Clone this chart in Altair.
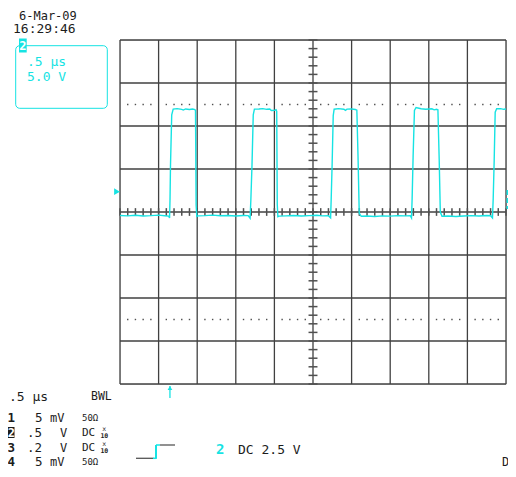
import altair as alt
import pandas as pd

# ---------------- data ----------------
# time axis: 0.5 us/div, 10 divisions ; volts axis: 5.0 V/div (0.5 V x10 probe), 8 divisions
time_ticks = [-2.5, -2.0, -1.5, -1.0, -0.5, 0.0, 0.5, 1.0, 1.5, 2.0, 2.5]
volt_ticks = [-20, -15, -10, -5, 0, 5, 10, 15, 20]
dotted_levels = [-12.5, 12.5]
trigger_time = [-1.853]

trace_t = [
    -2.500, -2.400, -2.300, -2.200, -2.100, -2.000, -1.920, -1.870, -1.858,
    -1.852, -1.846, -1.830, -1.811,
    -1.760, -1.700, -1.680, -1.650, -1.600, -1.560, -1.530,
    -1.522, -1.514, -1.505, -1.490,
    -1.400, -1.300, -1.200, -1.100, -1.000, -0.900, -0.840, -0.815,
    -0.805, -0.790, -0.774, -0.759,
    -0.700, -0.650, -0.600, -0.560, -0.540, -0.500, -0.478,
    -0.470, -0.463, -0.455, -0.440,
    -0.350, -0.250, -0.150, -0.050, 0.050, 0.120, 0.200, 0.228,
    0.236, 0.248, 0.262, 0.274,
    0.330, 0.400, 0.420, 0.440, 0.500, 0.550, 0.568,
    0.583, 0.599, 0.625,
    0.700, 0.800, 0.900, 1.000, 1.100, 1.200, 1.260, 1.276,
    1.284, 1.297, 1.314, 1.335,
    1.400, 1.460, 1.540, 1.570, 1.600, 1.618,
    1.635, 1.649, 1.671,
    1.750, 1.850, 1.950, 2.050, 2.150, 2.250, 2.300, 2.325,
    2.334, 2.347, 2.360, 2.379,
    2.430, 2.470, 2.500,
]
trace_v = [
    -0.40, -0.45, -0.38, -0.46, -0.42, -0.36, -0.44, -0.48, -0.70,
    1.5, 5.4, 11.3, 11.96,
    12.02, 11.93, 11.85, 11.98, 11.92, 11.97, 11.90,
    11.80, 0.8, -0.52, -0.45,
    -0.42, -0.36, -0.44, -0.40, -0.47, -0.40, -0.42, -0.72,
    1.4, 5.5, 11.3, 11.96,
    11.98, 12.02, 11.94, 11.98, 11.80, 11.82, 11.90,
    11.70, 0.9, -0.55, -0.48,
    -0.45, -0.40, -0.46, -0.42, -0.38, -0.45, -0.43, -0.68,
    1.6, 5.6, 11.2, 11.95,
    12.02, 11.95, 11.82, 11.96, 11.98, 11.92, 11.85,
    6.5, -0.15, -0.50,
    -0.46, -0.52, -0.45, -0.48, -0.42, -0.45, -0.44, -0.70,
    1.5, 6.5, 11.8, 12.15,
    12.00, 11.95, 12.00, 11.88, 11.95, 11.90,
    6.0, 0.0, -0.50,
    -0.46, -0.52, -0.46, -0.42, -0.47, -0.40, -0.44, -0.70,
    1.5, 6.0, 11.6, 12.00,
    12.02, 11.94, 11.97,
]

# ---------------- style ----------------
W, H = 386, 344          # plot (graticule) area
X0, Y0 = 120, 40         # its top-left corner on the page
CYAN = "#16E3E3"
GRID = "#404040"
INK = "#1c1c1c"
MONO = "DejaVu Sans Mono"

xs = alt.Scale(domain=[-2.5, 2.5], nice=False, zero=False)
ys = alt.Scale(domain=[-20, 20], nice=False, zero=False)

one = pd.DataFrame({"k": [0]})


def label(text, px, py, size=12, color=INK, weight="normal", align="left"):
    return alt.Chart(pd.DataFrame({"s": [text]})).mark_text(
        align=align, baseline="middle", fontSize=size, font=MONO,
        fontWeight=weight, color=color
    ).encode(text="s:N", x=alt.value(px - X0), y=alt.value(py - Y0))


def seg(px1, py1, px2, py2, color=INK, width=1.0, dash=None):
    kw = dict(color=color, strokeWidth=width)
    if dash:
        kw["strokeDash"] = dash
    return alt.Chart(one).mark_rule(**kw).encode(
        x=alt.value(px1 - X0), y=alt.value(py1 - Y0),
        x2=alt.value(px2 - X0), y2=alt.value(py2 - Y0))


def box(px1, py1, px2, py2, **kw):
    return alt.Chart(one).mark_rect(**kw).encode(
        x=alt.value(px1 - X0), y=alt.value(py1 - Y0),
        x2=alt.value(px2 - X0), y2=alt.value(py2 - Y0))


layers = []

# graticule
layers.append(alt.Chart(pd.DataFrame({"t": time_ticks})).mark_rule(color=GRID, strokeWidth=1.3).encode(
    x=alt.X("t:Q", scale=xs, axis=None), y=alt.value(0), y2=alt.value(H)))
layers.append(alt.Chart(pd.DataFrame({"v": volt_ticks})).mark_rule(color=GRID, strokeWidth=1.3).encode(
    y=alt.Y("v:Q", scale=ys, axis=None), x=alt.value(0), x2=alt.value(W)))

# centre-axis minor ticks (every 0.2 div)
minor_t = [round(-2.5 + 0.1 * i, 2) for i in range(51)]
minor_v = [-20 + i for i in range(41)]
layers.append(alt.Chart(pd.DataFrame({"t": minor_t, "lo": -0.45, "hi": 0.45})).mark_rule(
    color="#505050", strokeWidth=1.5).encode(
    x=alt.X("t:Q", scale=xs, axis=None), y=alt.Y("lo:Q", scale=ys, axis=None), y2="hi:Q"))
layers.append(alt.Chart(pd.DataFrame({"v": minor_v, "lo": -0.058, "hi": 0.058})).mark_rule(
    color="#505050", strokeWidth=1.5).encode(
    y=alt.Y("v:Q", scale=ys, axis=None), x=alt.X("lo:Q", scale=xs, axis=None), x2="hi:Q"))

# dotted reference lines at +/- 2.5 div
dots = pd.DataFrame([{"t": t, "v": lv} for lv in dotted_levels for t in minor_t
                     if abs(round(t * 2) - t * 2) > 1e-6])
layers.append(alt.Chart(dots).mark_square(size=2, color="#505050", opacity=1).encode(
    x=alt.X("t:Q", scale=xs, axis=None), y=alt.Y("v:Q", scale=ys, axis=None)))

# trace
trace = pd.DataFrame({"t": trace_t, "v": trace_v, "i": list(range(len(trace_t)))})
layers.append(alt.Chart(trace).mark_line(color=CYAN, strokeWidth=1.4).encode(
    x=alt.X("t:Q", scale=xs, axis=None), y=alt.Y("v:Q", scale=ys, axis=None), order="i:Q"))

# markers
layers.append(alt.Chart(one).mark_point(shape="triangle-right", filled=True, size=45,
                                        color=CYAN, opacity=1).encode(
    x=alt.value(117 - X0), y=alt.value(191.7 - Y0)))
layers.append(seg(507.3, 190, 507.3, 209, CYAN, 1.6, [5, 3]))
trig = pd.DataFrame({"t": trigger_time})
layers.append(alt.Chart(trig).mark_rule(color=CYAN, strokeWidth=1.3).encode(
    x=alt.X("t:Q", scale=xs, axis=None), y=alt.value(386 - Y0), y2=alt.value(398 - Y0)))
layers.append(alt.Chart(trig).mark_point(shape="triangle-up", filled=True, size=22,
                                         color=CYAN, opacity=1).encode(
    x=alt.X("t:Q", scale=xs, axis=None), y=alt.value(388 - Y0)))

# top-left info
layers.append(label("6-Mar-09", 19, 15.5, 12))
layers.append(label("16:29:46", 13, 29, 13))
layers.append(box(15.7, 45.7, 107.3, 108.3, fillOpacity=0, stroke=CYAN, strokeWidth=1, cornerRadius=4))
layers.append(box(19, 38.5, 26.7, 52.5, color=CYAN))
layers.append(label("2", 22.9, 45.7, 12, "white", "bold", "center"))
layers.append(label(".5 µs", 27, 62, 13, CYAN))
layers.append(label("5.0 V", 27, 77, 13, CYAN))

# bottom readout
layers.append(label(".5 µs", 9, 397, 13))
layers.append(label("BWL", 91, 397, 11.5))
rows = [417.5, 432.5, 447.5, 462]
chan = ["1", "2", "3", "4"]
scale_txt = [("5", "mV"), (".5", "V"), (".2", "V"), ("5", "mV")]
coupling = ["50Ω", "DC", "DC", "50Ω"]
for ch, sc, cp, ry in zip(chan, scale_txt, coupling, rows):
    if ch == "2":
        layers.append(box(8, ry - 5.5, 14.5, ry + 5.5, color=INK))
        layers.append(label(ch, 11.3, ry, 12, "white", "bold", "center"))
    else:
        layers.append(label(ch, 11.2, ry, 12.5, INK, "bold", "center"))
    if sc[0] == "5":
        layers.append(label(sc[0], 35, ry, 12.5))
        layers.append(label(sc[1], 50, ry, 12))
    else:
        layers.append(label(sc[0], 27, ry, 12.5))
        layers.append(label(sc[1], 60, ry, 12))
    if cp == "DC":
        layers.append(label(cp, 82, ry, 11))
        layers.append(label("x", 104.3, ry - 3.2, 6.5, INK, "normal", "center"))
        layers.append(label("10", 104.3, ry + 3.6, 6.5, INK, "bold", "center"))
    else:
        layers.append(label(cp, 82, ry, 9))

# trigger readout
layers.append(seg(136, 458.3, 153.5, 458.3, "#555555", 1.3))
layers.append(seg(153, 458.3, 156.5, 458.3, CYAN, 1.5))
layers.append(seg(156, 445, 156, 458.8, CYAN, 2))
layers.append(seg(156, 445, 160, 445, CYAN, 1.5))
layers.append(seg(160, 445, 175, 445, "#555555", 1.3))
layers.append(label("2", 216, 450, 14, CYAN, "bold"))
layers.append(label("DC 2.5 V", 238, 450, 13))
layers.append(label("D", 502, 462, 12))

chart = alt.layer(*layers).properties(
    width=W, height=H,
    padding={"left": X0 - 8, "top": Y0 - 8, "right": 500 - (X0 - 8) - W, "bottom": 85},
    autosize=alt.AutoSizeParams(type="none"),
).configure_view(stroke="transparent").configure(background="white")

chart.save("out.html", embed_options={"renderer": "svg", "actions": False})
